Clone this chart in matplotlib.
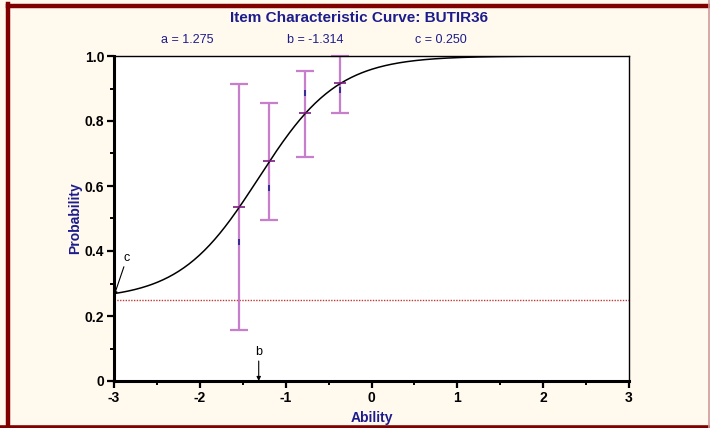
import numpy as np
import matplotlib
matplotlib.use("Agg")
import matplotlib.pyplot as plt
from matplotlib.ticker import MultipleLocator, FixedLocator
from matplotlib.lines import Line2D

# item parameters (3PL)
a_param = 1.275
b_param = -1.314
c_param = 0.250

# fitted points with error bars
group_ability = [-1.544, -1.19, -0.771, -0.367]
group_fit = [0.536, 0.677, 0.824, 0.918]
group_low = [0.157, 0.495, 0.690, 0.826]
group_high = [0.914, 0.856, 0.955, 1.000]
group_observed = [0.428, 0.595, 0.886, 0.895]

x_ticks = [-3, -2, -1, 0, 1, 2, 3]
y_ticks = [0, 0.2, 0.4, 0.6, 0.8, 1.0]
y_tick_labels = ["0", "0.2", "0.4", "0.6", "0.8", "1.0"]

navy = "#1c1c8c"
purple = "#9a2a9e"
light_purple = "#c77fcc"
narrow = ["Liberation Sans Narrow", "Liberation Sans", "DejaVu Sans"]

W, H = 710, 428
fig = plt.figure(figsize=(W / 100, H / 100), dpi=100)
fig.patch.set_facecolor("#fff9ee")

# dark red frame
fig.add_artist(Line2D([8 / W, 8 / W], [0, 1 - 4 / H], transform=fig.transFigure,
                      color="#800000", lw=3.2))
fig.add_artist(Line2D([8 / W, 1], [1 - 6 / H, 1 - 6 / H], transform=fig.transFigure,
                      color="#800000", lw=3.2))
fig.add_artist(Line2D([0, 1], [1.5 / H, 1.5 / H], transform=fig.transFigure,
                      color="#800000", lw=2.6))
fig.add_artist(Line2D([1 - 1 / W, 1 - 1 / W], [0, 1], transform=fig.transFigure,
                      color="#d09a9a", lw=1.2))

ax = fig.add_axes([114 / W, (H - 381) / H, (629 - 114) / W, (381 - 56) / H])
ax.set_facecolor("white")

theta = np.linspace(-3, 3, 400)
icc = c_param + (1 - c_param) / (1 + np.exp(-1.7 * a_param * (theta - b_param)))
ax.plot(theta, icc, color="black", lw=1.1, zorder=3)

ax.axhline(c_param, color="#c03a3a", lw=1.0, ls=(0, (1, 1)), zorder=2)

fit = np.array(group_fit)
yerr = [fit - np.array(group_low), np.array(group_high) - fit]
eb = ax.errorbar(group_ability, group_fit, yerr=yerr, fmt="none", ecolor=light_purple,
                 elinewidth=1.6, capsize=6.5, capthick=1.6, zorder=2, clip_on=False)
for cap in eb[1]:
    cap.set_color(purple)
ax.plot(group_ability, group_fit, ls="none", marker="_", ms=9, mew=1.2,
        color="#7a1a80", zorder=4, clip_on=False)
ax.plot(group_ability, group_observed, ls="none", marker="|", ms=5, mew=1.2,
        color=navy, zorder=4)

# c and b annotations
ax.annotate("c", xy=(-3, 0.262), xytext=(-2.85, 0.36), fontsize=9, family=narrow,
            ha="center", va="bottom",
            arrowprops=dict(arrowstyle="-|>", color="black", lw=0.8,
                            mutation_scale=6, shrinkA=0, shrinkB=0))
ax.annotate("b", xy=(b_param, 0.0), xytext=(b_param, 0.07), fontsize=9, family=narrow,
            ha="center", va="bottom",
            arrowprops=dict(arrowstyle="-|>", color="black", lw=0.8,
                            mutation_scale=6, shrinkA=0, shrinkB=0))

ax.set_xlim(-3, 3)
ax.set_ylim(0, 1)
ax.xaxis.set_major_locator(FixedLocator(x_ticks))
ax.xaxis.set_minor_locator(MultipleLocator(0.5))
ax.yaxis.set_major_locator(FixedLocator(y_ticks))
ax.yaxis.set_minor_locator(MultipleLocator(0.1))
ax.set_yticklabels(y_tick_labels)
ax.set_xticklabels([str(v) for v in x_ticks])
ax.tick_params(which="major", direction="out", length=5, width=1.6, pad=2)
ax.tick_params(which="minor", direction="out", length=3, width=1.4)
for label in ax.get_xticklabels() + ax.get_yticklabels():
    label.set_family(narrow)
    label.set_fontweight("bold")
    label.set_fontsize(10)

for side in ["left", "bottom"]:
    ax.spines[side].set_linewidth(2.2)
for side in ["top", "right"]:
    ax.spines[side].set_linewidth(1.0)

ax.set_xlabel("Ability", color=navy, fontweight="bold", fontsize=10, family=narrow,
              va="center")
ax.set_ylabel("Probability", color=navy, fontweight="bold", fontsize=10, family=narrow,
              va="center")
ax.xaxis.set_label_coords(0.5, -37 / 325)
ax.yaxis.set_label_coords(-39 / 515, 0.5)

fig.text(359 / W, 1 - 18 / H, "Item Characteristic Curve: BUTIR36", color=navy,
         fontweight="bold", fontsize=11, family=narrow, ha="center", va="center")
fig.text(187 / W, 1 - 40 / H, f"a = {a_param:.3f}", color=navy, fontsize=9,
         family=narrow, ha="center", va="center")
fig.text(315 / W, 1 - 40 / H, f"b = {b_param:.3f}", color=navy, fontsize=9,
         family=narrow, ha="center", va="center")
fig.text(441 / W, 1 - 40 / H, f"c = {c_param:.3f}", color=navy, fontsize=9,
         family=narrow, ha="center", va="center")

fig.savefig("out.png", dpi=100, facecolor=fig.get_facecolor())
